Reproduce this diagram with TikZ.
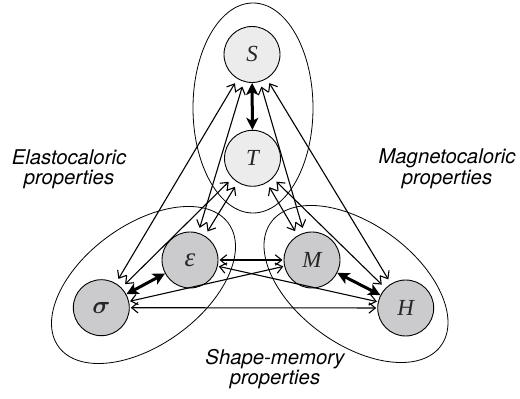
\documentclass[tikz,border=0pt]{standalone}
\usepackage{fontspec}
\setsansfont{TeX Gyre Heros}
\newfontfamily\varfont{Liberation Serif}
\usepackage{bm}
\usetikzlibrary{arrows.meta}
\definecolor{nodelight}{RGB}{236,236,236}
\definecolor{nodedark}{RGB}{203,203,205}
\begin{document}
\begin{tikzpicture}[x=1pt,y=1pt,
  prop/.style={circle, draw, line width=0.9pt, minimum size=56pt, inner sep=0pt,
    text=black!85, font=\fontsize{23}{23}\varfont\itshape},
  upper/.style={prop, fill=nodelight},
  lower/.style={prop, fill=nodedark},
  group/.style={line width=0.8pt},
  thinarr/.style={line width=1.1pt, >={Straight Barb[length=6.5pt,width=10.5pt]}, <->,
    shorten <=5pt, shorten >=5pt},
  flatarr/.style={thinarr, shorten <=1pt, shorten >=1pt},
  thickarr/.style={line width=3pt, >={Stealth[length=12pt,width=12pt,inset=3pt]}, <->},
  lbl/.style={font=\fontsize{20.3}{20.3}\sffamily\itshape, inner sep=0pt, anchor=base}
]
\useasboundingbox (0,0) rectangle (520,399);

% property groups
\draw[group] (253,291) ellipse [x radius=60, y radius=105];
\draw[group, rotate around={36:(143.5,114)}] (143.5,114) ellipse [x radius=105, y radius=60];
\draw[group, rotate around={-36:(356,115)}] (356,115) ellipse [x radius=105, y radius=60];

% state variables
\node[upper] (S) at (252,344.5) {S};
\node[upper] (T) at (252.5,240.7) {T};
\node[lower, font=\fontsize{27}{27}\varfont\itshape] (eps) at (190,139) {ε};
\node[lower, font=\fontsize{28}{28}\selectfont] (sig) at (101.3,91.3) {$\bm{\sigma}$};
\node[lower] (M) at (312,139) {M};
\node[lower] (H) at (405.7,91) {H};

% strong couplings
\draw[thickarr] (S) -- (T);
\draw[thickarr] (sig) -- (eps);
\draw[thickarr] (M) -- (H);

% cross couplings
\draw[thinarr] (S) -- (sig);
\draw[thinarr] (S) -- (eps);
\draw[thinarr] (S) -- (M);
\draw[thinarr] (S) -- (H);
\draw[thinarr] (T) -- (sig);
\draw[thinarr] (T) -- (eps);
\draw[thinarr] (T) -- (M);
\draw[thinarr] (T) -- (H);
\draw[flatarr] (eps) -- (M);
\draw[flatarr] (eps) -- (H);
\draw[flatarr] (sig) -- (M);
\draw[flatarr] (sig) -- (H);

% group labels
\node[lbl] (el1) at (69,234.5) {Elastocaloric};
\node[lbl] (el2) at (69,214.5) {properties};
\node[lbl] (mc1) at (447,235.5) {Magnetocaloric};
\node[lbl] (mc2) at (447,214) {properties};
\node[lbl] (sm1) at (275,34.5) {Shape-memory};
\node[lbl] (sm2) at (275,14) {properties};
\end{tikzpicture}
\end{document}
